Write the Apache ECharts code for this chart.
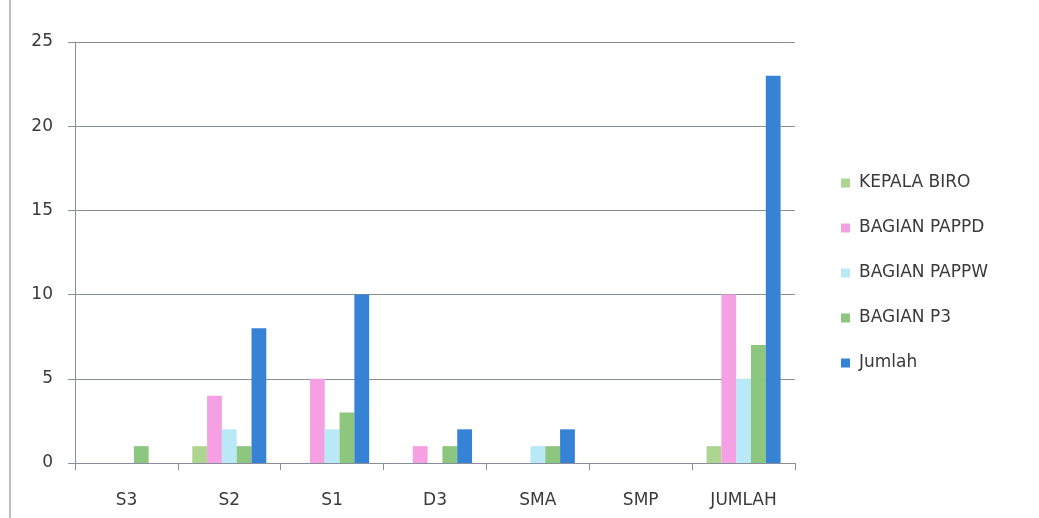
<!DOCTYPE html>
<html><head><meta charset="utf-8">
<script src="https://cdn.jsdelivr.net/npm/echarts@6/dist/echarts.min.js"></script>
<style>html,body{margin:0;padding:0;background:#fff}#c{width:1039px;height:518px}</style>
</head><body><div id="c"></div>
<script>
const categories = ['S3','S2','S1','D3','SMA','SMP','JUMLAH'];
const seriesNames = ['KEPALA BIRO','BAGIAN PAPPD','BAGIAN PAPPW','BAGIAN P3','Jumlah'];
const kepalaBiro = [0,1,0,0,0,0,1];
const bagianPAPPD = [0,4,5,1,0,0,10];
const bagianPAPPW = [0,2,2,0,1,0,5];
const bagianP3 = [1,1,3,1,1,0,7];
const jumlah = [0,8,10,2,2,0,23];
const yTicks = [0,5,10,15,20,25];
const colors = ['#aed58f','#f5a0e2','#b9e9f6','#8dc67e','#3683d6'];
const values = [kepalaBiro,bagianPAPPD,bagianPAPPW,bagianP3,jumlah];
const font = '"DejaVu Sans", "Open Sans", sans-serif';
const chart = echarts.init(document.getElementById('c'));
chart.setOption({
  animation:false,
  textStyle:{fontFamily:font},
  grid:{left:75,right:244,top:42,bottom:55,containLabel:false},
  legend:{orient:'vertical',left:836,top:168,itemWidth:9,itemHeight:9,itemGap:25,icon:'rect',
    textStyle:{fontSize:17,lineHeight:20,color:'#3a3a3a',fontFamily:font,padding:[0,0,0,4]},
    data:seriesNames},
  xAxis:{type:'category',data:categories,
    axisLine:{lineStyle:{color:'#8a8e9c',width:1}},
    axisTick:{show:true,length:7,lineStyle:{color:'#8a8e9c'}},
    axisLabel:{fontSize:17,color:'#3a3a3a',margin:29,fontFamily:font}},
  yAxis:{type:'value',min:yTicks[0],max:yTicks[yTicks.length-1],interval:5,
    axisLine:{show:true,lineStyle:{color:'#8a8e9c'}},
    axisTick:{show:true,length:7,lineStyle:{color:'#8a8e9c'}},
    splitLine:{lineStyle:{color:'#8a8e9c',width:1}},
    axisLabel:{fontSize:17,color:'#3a3a3a',margin:22,fontFamily:font,padding:[4,0,0,0]}},
  graphic:[{type:'line',shape:{x1:10,y1:0,x2:10,y2:518},style:{stroke:'#a8aab8',lineWidth:1.5}}],
  series:seriesNames.map((n,i)=>({name:n,type:'bar',data:values[i],barGap:'0%',barCategoryGap:'28%',
    itemStyle:{color:colors[i]}}))
});
</script></body></html>
